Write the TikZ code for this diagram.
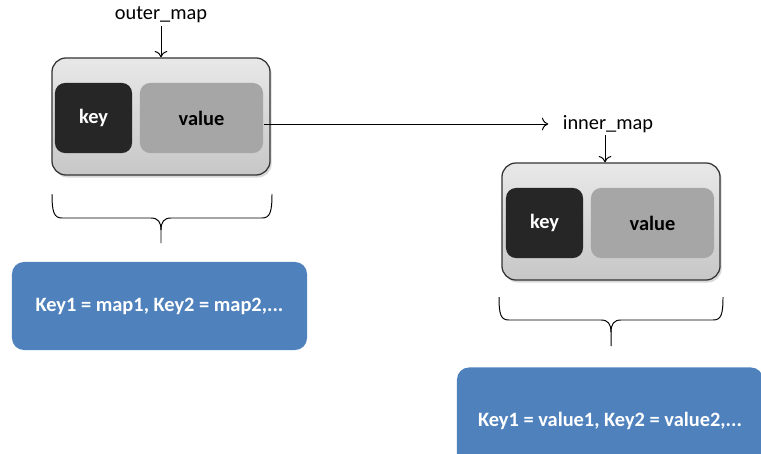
\documentclass[tikz,border=0pt]{standalone}
\usepackage{fontspec}
\setmainfont{Carlito}
\usetikzlibrary{positioning, arrows, arrows.meta, shadows}
\definecolor{mapblue}{HTML}{4F81BD}
\definecolor{keygray}{HTML}{262626}
\definecolor{valuegray}{HTML}{A6A6A6}

\begin{document}
\begin{tikzpicture}[x=0.025cm, y=-0.025cm, line width=0.7pt, >={To[length=4.5pt,width=9pt]},
    mapbox/.style={rectangle, rounded corners=0.35cm, draw=black!80, line width=0.9pt, top color=black!9, bottom color=black!22, drop shadow={opacity=0.3, shadow xshift=1.2pt, shadow yshift=-1.8pt}, inner sep=0pt},
    keybox/.style={rectangle, rounded corners=0.25cm, fill=keygray, text=white, font=\fontsize{14.5}{17}\selectfont\bfseries, minimum width=1.925cm, minimum height=1.75cm, inner sep=0pt},
    valuebox/.style={rectangle, rounded corners=0.25cm, fill=valuegray, text=black, font=\fontsize{14.5}{17}\selectfont\bfseries, minimum width=3.075cm, minimum height=1.75cm, inner sep=0pt},
    infobox/.style={rectangle, rounded corners=0.3cm, fill=mapblue, text=white, font=\fontsize{14.5}{17}\selectfont\bfseries, inner sep=0pt},
    maplabel/.style={font=\fontsize{14.5}{17}\selectfont, inner sep=1.5pt}]
    \useasboundingbox (0,0) rectangle (761,453);
    \node (outerlabel) at (161,15) [maplabel] {outer\_map};
    \node (outerbox)   at (161,116.5) [mapbox, minimum width=5.45cm, minimum height=2.925cm] {};
    \node (outerkey)   at (93.5,118) [keybox] {key};
    \node (outervalue) at (201.5,118) [valuebox] {value};
    \node (innerlabel) at (608,124) [maplabel] {inner\_map};
    \node (innerbox)   at (611,221.5) [mapbox, minimum width=5.45cm, minimum height=2.925cm] {};
    \node (innerkey)   at (544.5,223) [keybox] {key};
    \node (innervalue) at (652.5,223) [valuebox] {value};
    \node (outerinfo)  at (159.5,306) [infobox, minimum width=7.375cm, minimum height=2.2cm] {Key1 = map1, Key2 = map2,...};
    \node (innerinfo)  at (610,367) [infobox, anchor=north, minimum width=7.65cm, minimum height=3cm] {\raisebox{0.425cm}{Key1 = value1, Key2 = value2,...}};
    \draw[->] (outerlabel.south) -- (outerbox.north);
    \draw[->] ([xshift=-0.075cm]innerlabel.south) -- ([xshift=-0.075cm]innerlabel.south |- innerbox.north);
    \draw[->, shorten >=0.3cm] (outervalue.east |- innerlabel.west) -- (innerlabel.west);
    \draw (52,194) .. controls (52,212) and (54,218) .. (62,218) -- (151,218) .. controls (158,218) and (161,222) .. (161,230) -- (161,243);
    \draw (272,194) .. controls (272,212) and (270,218) .. (262,218) -- (171,218) .. controls (164,218) and (161,222) .. (161,230);
    \draw (499,297) .. controls (499,315) and (501,320) .. (509,320) -- (601,320) .. controls (608,320) and (611,324) .. (611,332) -- (611,346);
    \draw (723,297) .. controls (723,315) and (721,320) .. (713,320) -- (621,320) .. controls (614,320) and (611,324) .. (611,332);
\end{tikzpicture}
\end{document}
